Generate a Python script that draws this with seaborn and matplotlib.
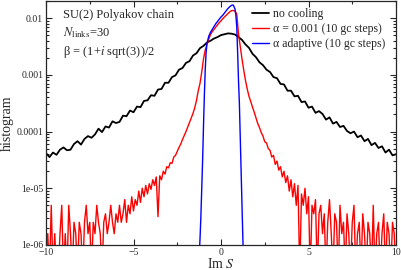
import numpy as np
import pandas as pd
import seaborn as sns
import matplotlib
matplotlib.use("Agg")
import matplotlib.pyplot as plt
from matplotlib.ticker import MultipleLocator, LogLocator, NullFormatter

# histogram values stored as log10(histogram)
black_x = [round(-10 + 0.2 * i, 1) for i in range(101)]
black_log = [-4.38, -4.45, -4.37, -4.41, -4.32, -4.28, -4.33, -4.32, -4.22, -4.17,
             -4.23, -4.13, -4.08, -4.11, -4.05, -3.95, -4.01, -3.91, -3.93, -3.82,
             -3.85, -3.83, -3.72, -3.73, -3.63, -3.66, -3.56, -3.57, -3.46, -3.45,
             -3.36, -3.37, -3.26, -3.25, -3.14, -3.14, -3.04, -3.01, -2.91, -2.88,
             -2.79, -2.76, -2.66, -2.62, -2.53, -2.49, -2.43, -2.40, -2.36, -2.335,
             -2.30, -2.285, -2.27, -2.275, -2.29, -2.335, -2.385, -2.465, -2.525, -2.63,
             -2.69, -2.78, -2.83, -2.91, -2.95, -3.04, -3.06, -3.16, -3.17, -3.28,
             -3.28, -3.38, -3.37, -3.48, -3.47, -3.58, -3.56, -3.67, -3.64, -3.69,
             -3.79, -3.75, -3.86, -3.83, -3.92, -3.90, -3.99, -4.03, -4.00, -4.10,
             -4.07, -4.17, -4.13, -4.24, -4.20, -4.29, -4.26, -4.37, -4.32, -4.42,
             -4.40]

red_x = ([round(-10 + 0.1 * i, 1) for i in range(80)]
         + [round(-2 + 0.1 * i, 1) for i in range(41)]
         + [round(2.1 + 0.1 * i, 1) for i in range(80)])
red_log = [-6.5, -5.8, -6.5, -5.3, -6.5, -5.8, -6.5, -6.5, -5.8, -5.3,
           -6.5, -5.8, -6.5, -5.3, -5.8, -6.5, -5.6, -5.8, -6.5, -5.6,
           -5.8, -6.5, -5.6, -5.3, -5.8, -5.6, -6.5, -5.6, -5.8, -5.3,
           -5.6, -5.8, -6.5, -5.6, -5.45, -5.8, -5.6, -5.3, -5.6, -5.8,
           -5.45, -5.6, -5.3, -5.6, -5.45, -5.2, -5.6, -5.3, -5.45, -5.15,
           -5.4, -5.2, -5.3, -5.05, -5.25, -5.0, -5.15, -4.95, -5.1, -4.92,
           -5.02, -4.85, -4.95, -4.8, -5.5, -4.78, -4.85, -4.7, -4.75, -4.62,
           -4.64, -4.55, -4.56, -4.45, -4.42, -4.35, -4.28, -4.22, -4.14, -4.07,
           -4.00, -3.92, -3.84, -3.76, -3.68, -3.58, -3.45, -3.28, -3.15, -2.95,
           -2.72, -2.56, -2.46, -2.37, -2.29, -2.24, -2.20, -2.16, -2.12, -2.08,
           -2.05, -2.01, -1.98, -1.95, -1.92, -1.89, -1.87, -1.865, -1.88, -1.93,
           -2.28, -2.50, -2.72, -2.92, -3.10, -3.25, -3.38, -3.47, -3.57, -3.66,
           -3.76,
           -3.86, -3.93, -4.02, -4.08, -4.18, -4.20, -4.30, -4.33, -4.45, -4.42,
           -4.58, -4.52, -4.68, -4.62, -4.80, -4.70, -4.90, -4.78, -5.05, -4.85,
           -5.15, -4.92, -5.3, -4.95, -6.5, -5.1, -5.3, -5.0, -5.45, -5.15,
           -6.5, -5.3, -5.45, -5.2, -6.5, -5.45, -5.3, -5.8, -5.45, -6.5,
           -5.6, -5.2, -5.8, -6.5, -5.45, -5.6, -6.5, -5.3, -5.8, -5.6,
           -6.5, -5.45, -5.8, -6.5, -5.6, -5.3, -6.5, -5.8, -5.6, -6.5,
           -5.45, -5.8, -6.5, -5.6, -5.8, -6.5, -5.3, -6.5, -5.8, -5.6,
           -6.5, -5.8, -5.45, -6.5, -5.6, -5.8, -6.5, -5.6, -5.8, -6.5]

blue_x = [-1.25, -1.2, -1.15, -1.1, -1.05, -1.0, -0.95, -0.9, -0.85, -0.8,
          -0.7, -0.6, -0.5, -0.4, -0.3, -0.2, -0.1, 0.0, 0.1, 0.2,
          0.3, 0.4, 0.5, 0.6, 0.7, 0.8, 0.85, 0.9, 0.95, 1.0,
          1.05, 1.1, 1.15, 1.2, 1.25, 1.3]
blue_log = [-6.2, -5.9, -5.5, -5.0, -4.5, -3.9, -3.35, -2.9, -2.6, -2.45,
            -2.32, -2.25, -2.20, -2.15, -2.10, -2.06, -2.02, -1.98, -1.95, -1.91,
            -1.87, -1.83, -1.80, -1.775, -1.77, -1.84, -1.95, -2.15, -2.6, -3.1,
            -3.5, -4.1, -4.7, -5.3, -5.9, -6.4]

labels = ["no cooling", "\u03b1 = 0.001 (10 gc steps)", "\u03b1 adaptive (10 gc steps)"]
ytick_vals = [1e-6, 1e-5, 1e-4, 1e-3, 1e-2]
ytick_labels = ["1e-06", "1e-05", "0.0001", "0.001", "0.01"]

sns.set_style("ticks")
plt.rcParams["font.family"] = ["Liberation Serif", "DejaVu Serif"]
plt.rcParams["mathtext.fontset"] = "stix"

fig = plt.figure(figsize=(4.01, 2.70), dpi=100)
ax = fig.add_axes([46 / 401, 25 / 270, 350 / 401, 244 / 270])

curves = [(black_x, black_log, "black", 1.3), (red_x, red_log, "#ff0000", 1.0),
          (blue_x, blue_log, "#0000ff", 1.0)]
for (xs, ls, col, w), lab in zip(curves, labels):
    df = pd.DataFrame({"ImS": xs, "hist": 10.0 ** np.array(ls)})
    sns.lineplot(data=df, x="ImS", y="hist", color=col, lw=w, label=lab, ax=ax, sort=False)

ax.set_yscale("log")
ax.set_xlim(-10, 10)
ax.set_ylim(1e-6, 0.02)
ax.set_yticks(ytick_vals)
ax.set_yticklabels(ytick_labels)
ax.yaxis.set_minor_locator(LogLocator(base=10, subs=np.arange(2, 10)))
ax.yaxis.set_minor_formatter(NullFormatter())
ax.set_xticks([-10, -5, 0, 5, 10])
ax.xaxis.set_minor_locator(MultipleLocator(2.5))
ax.tick_params(which="both", direction="in", top=True, right=True, width=0.8, labelsize=7, pad=2)
ax.tick_params(which="major", length=4)
ax.tick_params(which="minor", length=2.2)
for sp in ax.spines.values():
    sp.set_linewidth(0.9)

ax.set_xlabel("Im $S$", fontsize=10, labelpad=0)
ax.set_ylabel("histogram", fontsize=10, labelpad=2)

ax.text(0.049, 0.943, "SU(2) Polyakov chain", transform=ax.transAxes, fontsize=9, va="center")
ax.text(0.049, 0.869, "$N_{\\rm links}$=30", transform=ax.transAxes, fontsize=9, va="center")
ax.text(0.049, 0.791, "\u03b2 = (1+$i$ sqrt(3))/2", transform=ax.transAxes, fontsize=9, va="center")

ax.legend(loc="upper left", bbox_to_anchor=(0.589, 0.972), frameon=False, fontsize=8.5,
          borderpad=0, borderaxespad=0, handlelength=1.4, handletextpad=0.4, labelspacing=0.25)

fig.savefig("out.png", dpi=100)
